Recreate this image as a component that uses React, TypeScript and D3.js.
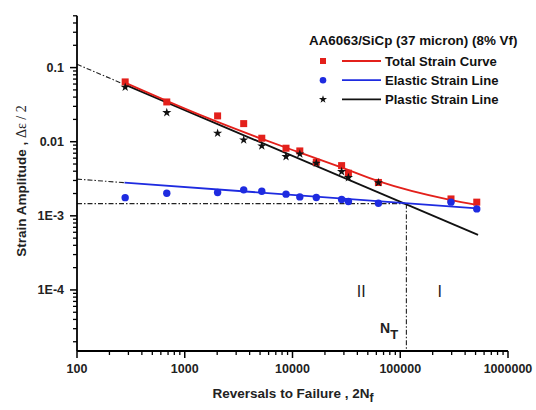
import React from 'react';
import * as d3 from 'd3';

// ---- data ----
const reversals = [280, 681, 2018, 3524, 5188, 8707, 11690, 16630, 28560, 33030, 62700, 295800, 513000];
const totalStrain = [0.0641, 0.0344, 0.0223, 0.01755, 0.01115, 0.00817, 0.00751, 0.00529, 0.00476, 0.00376, 0.00282, 0.00169, 0.00153];
const elasticStrain = [0.00176, 0.00202, 0.00206, 0.00224, 0.00215, 0.00196, 0.0018, 0.00177, 0.00166, 0.00156, 0.00148, 0.00153, 0.00124];
const plasticStrain = [0.0544, 0.0247, 0.01303, 0.01057, 0.00878, 0.0063, 0.00684, 0.00513, 0.00395, 0.00328, 0.0028];

const totalCurveX = [282, 1385, 5212, 11740, 28790, 63500, 289700, 515300];
const totalCurveY = [0.0622, 0.023, 0.0109, 0.00711, 0.00447, 0.00291, 0.00164, 0.0014];
const elasticLineX = [276, 515000];
const elasticLineY = [0.0028, 0.00126];
const plasticLineX = [282, 527000];
const plasticLineY = [0.0584, 0.000552];
const elasticExtX = [100, 276];
const elasticExtY = [0.00313, 0.0028];
const plasticExtX = [100, 282];
const plasticExtY = [0.1108, 0.0584];
const transitionReversals = 114000;
const transitionStrain = 0.00146;

const xTicks = [100, 1000, 10000, 100000, 1000000];
const xTickLabels = ['100', '1000', '10000', '100000', '1000000'];
const yTicks = [0.1, 0.01, 0.001, 0.0001];
const yTickLabels = ['0.1', '0.01', '1E-3', '1E-4'];
const regionLabels = ['II', 'I'];
const regionX = [43500, 233000];
const regionY = 9.6e-5;

const legendTitle = 'AA6063/SiCp (37 micron) (8% Vf)';
const legendNames = ['Total Strain Curve', 'Elastic Strain Line', 'Plastic Strain Line'];

const RED = '#e3201b';
const BLUE = '#1e2be0';
const BLACK = '#111';
const SANS = '"Liberation Sans", Arial, sans-serif';

export default function App() {
  const W = 536, H = 410;
  const x = d3.scaleLog().domain([100, 1e6]).range([77, 508]);
  const y = d3.scaleLog().domain([1.5e-5, 0.5]).range([351, 15.8]);

  const lineGen = d3.line<[number, number]>().x(d => x(d[0])).y(d => y(d[1]));
  const curveGen = d3.line<[number, number]>().x(d => x(d[0])).y(d => y(d[1])).curve(d3.curveMonotoneX);
  const zip = (a: number[], b: number[]) => a.map((v, i) => [v, b[i]] as [number, number]);

  const xMinor: number[] = [];
  for (let e = 2; e < 6; e++) for (let k = 2; k <= 9; k++) xMinor.push(k * Math.pow(10, e));
  const yMinor: number[] = [];
  for (let e = -5; e <= -1; e++) for (let k = 2; k <= 9; k++) {
    const v = k * Math.pow(10, e);
    if (v >= 1.5e-5 && v <= 0.5) yMinor.push(v);
  }

  const star = d3.symbol(d3.symbolStar, 26)()!;
  const dash = '5,2,1.5,2';

  return (
    <svg width={W} height={H} style={{ position: 'absolute', left: 0, top: 0, background: '#fff' }} fontFamily={SANS}>
      {/* extensions & guide lines */}
      <path d={lineGen(zip(plasticExtX, plasticExtY))!} stroke="#222" strokeWidth={1.1} strokeDasharray={dash} fill="none" />
      <path d={lineGen(zip(elasticExtX, elasticExtY))!} stroke="#222" strokeWidth={1.1} strokeDasharray={dash} fill="none" />
      <line x1={x(100)} x2={x(transitionReversals)} y1={y(transitionStrain)} y2={y(transitionStrain)} stroke="#222" strokeWidth={1.1} strokeDasharray={dash} />
      <line x1={x(transitionReversals)} x2={x(transitionReversals)} y1={y(transitionStrain)} y2={y(1.5e-5)} stroke="#222" strokeWidth={1.1} strokeDasharray={dash} />

      {/* fitted lines */}
      <path d={lineGen(zip(plasticLineX, plasticLineY))!} stroke={BLACK} strokeWidth={1.8} fill="none" />
      <path d={lineGen(zip(elasticLineX, elasticLineY))!} stroke={BLUE} strokeWidth={1.8} fill="none" />
      <path d={curveGen(zip(totalCurveX, totalCurveY))!} stroke={RED} strokeWidth={1.8} fill="none" />

      {/* markers */}
      {reversals.map((r, i) => (
        <rect key={'t' + i} x={x(r) - 3.5} y={y(totalStrain[i]) - 3.5} width={7} height={7} fill={RED} />
      ))}
      {reversals.map((r, i) => (
        <circle key={'e' + i} cx={x(r)} cy={y(elasticStrain[i])} r={3.7} fill={BLUE} />
      ))}
      {plasticStrain.map((v, i) => (
        <path key={'p' + i} d={star} transform={`translate(${x(reversals[i])},${y(v)})`} fill={BLACK} />
      ))}

      {/* axes */}
      <line x1={77} x2={77} y1={y(0.5)} y2={351} stroke="#000" strokeWidth={1.8} />
      <line x1={77} x2={x(1e6)} y1={351} y2={351} stroke="#000" strokeWidth={1.8} />
      {xTicks.map((t, i) => (
        <g key={'xt' + i}>
          <line x1={x(t)} x2={x(t)} y1={351} y2={358} stroke="#000" strokeWidth={1.5} />
          <text x={x(t)} y={373} textAnchor="middle" fontSize={12.5} fontWeight="bold" fill="#222">{xTickLabels[i]}</text>
        </g>
      ))}
      {xMinor.map((t, i) => (
        <line key={'xm' + i} x1={x(t)} x2={x(t)} y1={351} y2={355} stroke="#000" strokeWidth={1.3} />
      ))}
      {yTicks.map((t, i) => (
        <g key={'yt' + i}>
          <line x1={70} x2={77} y1={y(t)} y2={y(t)} stroke="#000" strokeWidth={1.5} />
          <text x={64} y={y(t) + 4.5} textAnchor="end" fontSize={12.5} fontWeight="bold" fill="#222">{yTickLabels[i]}</text>
        </g>
      ))}
      {yMinor.map((t, i) => (
        <line key={'ym' + i} x1={73} x2={77} y1={y(t)} y2={y(t)} stroke="#000" strokeWidth={1.3} />
      ))}

      {/* axis titles */}
      <text x={395} y={0} transform={`translate(0,0)`} />
      <text transform={`translate(26,181) rotate(-90)`} textAnchor="middle" fontSize={13.5} fill="#222">
        <tspan fontWeight="bold">Strain Amplitude , </tspan>
        <tspan fontFamily='"Liberation Serif", serif' fontSize={14}>Δε / 2</tspan>
      </text>
      <text x={293} y={398} textAnchor="middle" fontSize={13.5} fontWeight="bold" fill="#222">
        Reversals to Failure , 2N<tspan fontSize={12} dy={4}>f</tspan>
      </text>

      {/* region labels */}
      {regionLabels.map((l, i) => (
        <text key={'r' + i} x={x(regionX[i])} y={y(regionY) + 6} textAnchor="middle" fontSize={16} fill="#222">{l}</text>
      ))}
      <text x={380} y={333} fontSize={14} fontWeight="bold" fill="#222">N<tspan fontSize={13} dy={6}>T</tspan></text>

      {/* legend */}
      <text x={309} y={45} fontSize={13.4} fontWeight="bold" fill="#111">{legendTitle}</text>
      {legendNames.map((n, i) => {
        const cy = 61 + i * 19.2;
        const col = [RED, BLUE, BLACK][i];
        return (
          <g key={'lg' + i}>
            {i === 0 && <rect x={320} y={cy - 3} width={6} height={6} fill={RED} />}
            {i === 1 && <circle cx={323} cy={cy} r={3.3} fill={BLUE} />}
            {i === 2 && <path d={d3.symbol(d3.symbolStar, 20)()!} transform={`translate(323,${cy})`} fill={BLACK} />}
            <line x1={342} x2={381} y1={cy} y2={cy} stroke={col} strokeWidth={1.8} />
            <text x={385} y={cy + 4.7} fontSize={13.1} fontWeight="bold" fill="#111">{n}</text>
          </g>
        );
      })}
    </svg>
  );
}
